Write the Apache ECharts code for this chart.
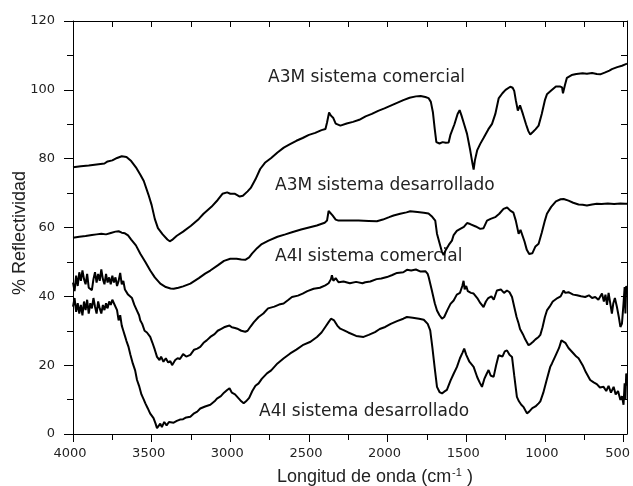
<!DOCTYPE html>
<html>
<head>
<meta charset="utf-8">
<script src="https://cdn.jsdelivr.net/npm/echarts@6/dist/echarts.min.js"></script>
<style>
html,body{margin:0;padding:0;background:#fff;}
#c{width:633px;height:486px;}
</style>
</head>
<body>
<div id="c"></div>
<script>
// ---- Data (wavenumber in cm^-1, % reflectivity) ----
const seriesNames = ["A3M sistema comercial", "A3M sistema desarrollado", "A4I sistema comercial", "A4I sistema desarrollado"];

const wnA3Mcom = [4000,3950,3900,3850,3800,3780,3750,3720,3690,3660,3630,3600,3570,3550,3520,3500,3480,3460,3430,3400,3385,3370,3340,3300,3250,3200,3170,3120,3080,3050,3020,3000,2970,2940,2920,2890,2870,2840,2810,2780,2740,2700,2660,2620,2580,2540,2500,2460,2420,2395,2385,2372,2360,2345,2330,2300,2260,2220,2180,2140,2100,2060,2020,1980,1940,1900,1860,1820,1790,1760,1740,1725,1712,1700,1690,1670,1650,1630,1612,1600,1575,1555,1542,1530,1510,1495,1475,1460,1453,1445,1430,1411,1390,1360,1336,1315,1294,1270,1250,1220,1205,1195,1185,1172,1165,1158,1152,1140,1120,1105,1093,1075,1060,1040,1020,1000,987,960,930,905,891,885,880,872,860,830,800,760,733,700,670,648,620,590,574,540,510,489,478];
const reA3Mcom = [77.5,77.8,78.0,78.3,78.6,79.2,79.5,80.2,80.7,80.5,79.3,77.5,75.2,73.5,69.5,66.5,62.5,59.8,58.0,56.5,56.0,56.4,57.6,58.8,60.5,62.5,64.0,66.0,68.0,69.8,70.2,69.8,69.8,69.0,69.2,70.5,71.5,74.0,77.0,78.8,80.2,81.8,83.2,84.2,85.2,86.0,86.9,87.5,88.3,88.6,90.5,93.4,92.5,91.8,90.2,89.6,90.2,90.7,91.3,92.3,93.0,93.9,94.6,95.4,96.2,97.0,97.7,98.1,98.2,97.9,97.6,96.5,93.5,88.5,84.8,84.4,84.8,84.6,84.7,87.0,90.0,93.0,94.1,92.5,89.5,87.2,82.5,78.5,76.8,79.5,82.5,84.3,86.0,88.5,90.1,93.0,97.5,99.0,100.0,100.9,100.6,99.7,97.0,94.0,93.5,95.5,95.8,93.0,90.0,88.0,87.0,87.8,88.5,89.6,93.0,97.0,98.7,99.8,101.0,101.0,100.7,99.0,98.7,101.5,103.5,104.3,104.6,104.8,104.7,104.9,104.6,104.5,105.0,105.6,106.0,106.6,107.0,107.4,107.6];

const wnA3Mdes = [4000,3960,3920,3880,3850,3820,3790,3760,3730,3710,3690,3670,3650,3630,3600,3572,3540,3509,3480,3445,3410,3380,3360,3330,3300,3254,3200,3160,3127,3080,3040,3000,2960,2930,2905,2880,2862,2830,2800,2757,2700,2650,2608,2550,2500,2450,2400,2385,2375,2365,2350,2330,2312,2250,2184,2120,2068,2030,1990,1962,1920,1880,1856,1810,1770,1740,1720,1697,1686,1670,1655,1644,1630,1610,1591,1580,1560,1538,1515,1495,1475,1464,1440,1411,1390,1368,1345,1316,1290,1263,1240,1220,1200,1185,1167,1155,1146,1130,1115,1100,1093,1080,1060,1040,1020,1000,987,960,930,900,881,850,820,786,760,733,700,670,640,600,560,520,489,478];
const reA3Mdes = [57.0,57.3,57.5,57.8,58.0,58.2,58.0,58.4,58.8,58.9,58.5,58.3,57.7,56.5,54.8,52.4,50.0,47.5,45.5,43.7,42.7,42.3,42.2,42.5,42.9,43.7,45.3,46.6,47.5,49.0,50.3,50.9,50.9,50.7,50.6,51.3,52.4,54.0,55.2,56.2,57.3,58.0,58.6,59.4,60.0,60.6,61.4,62.0,64.8,65.0,63.5,62.3,62.0,62.0,62.0,61.9,61.8,62.3,63.0,63.5,64.0,64.4,64.7,64.5,64.3,64.1,63.3,62.0,58.2,55.5,53.0,52.0,53.5,55.0,56.2,57.8,59.0,59.6,60.2,61.3,61.0,61.1,60.3,59.6,59.8,62.0,62.5,63.0,64.0,65.4,65.8,64.9,64.3,62.0,58.2,59.3,59.1,56.0,53.5,52.3,51.9,52.5,54.5,55.3,58.5,62.0,64.0,66.0,67.6,68.2,68.3,67.8,67.2,66.7,66.6,66.4,66.7,66.9,66.8,67.0,66.8,67.0,66.9,66.9];

const wnA4Icom = [4000,3990,3980,3970,3960,3950,3940,3930,3920,3910,3900,3880,3870,3860,3850,3840,3830,3820,3810,3800,3790,3780,3770,3760,3750,3740,3730,3720,3710,3700,3690,3680,3670,3660,3650,3640,3625,3610,3595,3580,3572,3560,3545,3530,3509,3495,3480,3466,3450,3440,3425,3410,3395,3381,3370,3360,3350,3335,3320,3300,3280,3254,3230,3210,3191,3170,3150,3127,3100,3080,3060,3040,3021,3005,2990,2970,2950,2930,2905,2890,2870,2850,2820,2790,2760,2720,2690,2661,2630,2608,2570,2540,2510,2470,2430,2396,2375,2360,2354,2345,2330,2312,2280,2240,2200,2160,2142,2110,2070,2040,2004,1970,1940,1900,1877,1850,1820,1790,1760,1745,1739,1720,1700,1686,1670,1654,1640,1620,1600,1580,1560,1540,1525,1517,1510,1500,1490,1470,1453,1430,1410,1390,1375,1360,1340,1325,1305,1280,1260,1241,1225,1209,1195,1180,1167,1158,1150,1140,1125,1104,1090,1075,1060,1040,1029,1015,1000,987,970,950,920,900,881,870,850,820,796,770,744,720,700,680,660,637,625,615,605,595,584,574,565,555,542,530,520,510,500,493,488,483,478];
const reA4Icom = [44.0,41.5,46.0,43.0,47.0,44.5,47.5,45.0,43.5,46.5,42.5,41.8,45.0,47.0,44.0,46.5,44.5,47.8,45.0,43.5,46.5,44.0,45.5,43.5,46.0,44.0,45.5,43.0,44.5,46.8,43.5,44.5,42.0,42.5,40.5,41.0,39.5,37.5,36.0,34.5,33.0,32.0,30.0,29.5,28.2,26.5,24.5,22.4,21.5,22.5,21.0,22.0,20.8,21.2,20.0,19.8,21.5,22.0,21.8,23.2,22.5,23.0,24.5,24.8,25.3,26.5,27.2,28.2,29.0,30.0,30.5,31.0,31.3,31.5,31.0,30.8,30.5,30.0,29.7,30.0,31.3,32.5,34.0,35.0,36.5,37.0,37.6,37.9,39.0,39.8,40.2,40.8,41.5,42.2,42.5,43.2,43.8,45.0,46.1,44.5,45.3,44.1,44.3,43.8,44.2,43.8,44.1,44.3,45.0,45.2,45.6,46.2,46.8,47.0,47.7,47.5,47.8,47.2,47.3,46.5,45.6,42.0,38.0,35.9,34.5,33.5,34.0,36.0,37.8,38.8,40.5,41.0,43.0,44.5,42.0,43.0,41.5,41.0,40.8,39.5,38.0,36.9,38.5,39.5,40.0,39.0,41.7,42.0,41.0,41.7,41.2,39.8,37.0,34.0,32.1,30.5,31.0,29.0,27.5,25.8,26.2,26.8,27.5,28.2,28.8,31.0,34.0,35.9,37.0,38.5,39.5,40.0,41.7,41.0,41.2,40.5,40.3,40.0,39.8,40.3,39.5,39.8,39.0,40.8,38.5,40.5,37.5,41.0,40.8,35.0,38.0,39.5,36.9,34.0,31.1,32.1,38.0,42.7,35.0,43.0,42.0];

const wnA4Ides = [4000,3990,3980,3970,3960,3950,3940,3930,3920,3910,3900,3890,3880,3870,3860,3850,3840,3830,3820,3810,3800,3790,3780,3770,3760,3750,3740,3730,3720,3710,3700,3690,3680,3670,3660,3647,3635,3620,3605,3593,3580,3565,3550,3540,3525,3510,3500,3488,3475,3466,3455,3445,3435,3420,3405,3390,3381,3360,3340,3320,3300,3280,3254,3230,3210,3191,3160,3127,3100,3085,3060,3040,3020,3005,2990,2970,2950,2930,2915,2900,2880,2860,2840,2820,2800,2767,2740,2700,2660,2619,2580,2540,2490,2449,2420,2396,2375,2360,2354,2340,2320,2301,2280,2250,2200,2153,2120,2080,2050,2015,1980,1940,1900,1877,1840,1800,1770,1745,1729,1715,1700,1686,1670,1654,1640,1623,1600,1580,1559,1540,1525,1513,1500,1480,1453,1430,1415,1400,1385,1370,1358,1345,1326,1310,1294,1270,1255,1241,1225,1209,1195,1178,1165,1150,1135,1114,1100,1080,1060,1040,1029,1010,990,966,955,930,910,895,888,870,850,818,800,786,760,740,712,690,670,650,627,610,595,580,563,550,535,520,510,500,493,488,483,478];
const reA4Ides = [37.0,39.5,35.5,38.0,35.0,37.5,34.5,38.5,36.0,39.0,35.0,38.0,36.5,39.5,37.0,35.0,38.5,36.5,35.0,37.5,36.0,38.0,36.5,38.5,37.5,39.0,38.0,37.5,36.0,33.0,34.5,31.5,30.0,28.5,27.0,25.3,23.0,20.5,18.5,15.7,14.0,11.5,10.0,8.9,7.5,6.0,5.5,4.6,3.0,1.7,1.2,3.0,2.0,3.5,2.5,3.5,3.1,3.3,3.8,4.2,4.3,4.8,5.0,6.0,6.5,7.4,8.0,8.5,9.5,10.3,11.0,12.0,12.8,13.3,12.0,11.5,10.5,9.5,8.9,9.5,10.5,12.5,14.0,14.7,16.0,17.6,18.5,20.5,22.0,23.4,24.5,25.8,26.8,28.2,29.5,31.1,32.5,33.5,34.0,33.0,31.5,30.6,30.2,29.5,28.5,28.2,28.8,29.6,30.5,31.1,32.0,32.8,33.5,34.0,33.8,33.5,33.2,32.0,30.1,25.0,19.0,13.7,12.2,11.8,12.3,12.8,15.5,17.5,19.5,22.0,23.5,24.8,23.0,21.0,19.5,16.5,15.0,13.7,16.0,17.5,18.6,17.0,16.6,20.0,22.9,22.5,24.0,24.3,23.0,22.4,17.0,10.8,9.5,8.5,7.8,6.0,6.5,7.5,8.0,8.9,9.5,12.0,15.5,19.5,20.5,23.0,25.0,27.2,27.0,26.5,25.0,23.4,22.5,22.0,20.0,18.0,15.7,15.0,14.5,13.5,13.7,12.5,14.0,12.0,13.7,11.5,12.5,9.9,11.0,8.5,14.7,10.0,17.6,14.0];

const xMajorTicks = [4000,3500,3000,2500,2000,1500,1000,500];
const xMinorTicks = [3750,3250,2750,2250,1750,1250,750];
const xAllTicks = [4000,3750,3500,3250,3000,2750,2500,2250,2000,1750,1500,1250,1000,750,500];
const xTitle = "Longitud de onda (cm";
const xTitleSup = "-1";
const yTitle = "% Reflectividad";

// ---- build ----
function pairs(xs, ys){ return xs.map((x,i)=>[x, ys[i]]); }
const allSeries = [
  pairs(wnA3Mcom, reA3Mcom),
  pairs(wnA3Mdes, reA3Mdes),
  pairs(wnA4Icom, reA4Icom),
  pairs(wnA4Ides, reA4Ides)
];

const XMIN = 478, XMAX = 4000;
const lastLabel = xMajorTicks[xMajorTicks.length - 1];
const axLine = {show:true, lineStyle:{color:'#000', width:1}};

const chart = echarts.init(document.getElementById('c'), null, {renderer:'canvas'});
chart.setOption({
  animation:false,
  backgroundColor:'#fff',
  grid:{left:73, right:6, top:21, bottom:52, containLabel:false, outerBoundsMode:'none'},
  xAxis:[
    {type:'value', position:'bottom', inverse:true, min:XMIN, max:XMAX,
     axisLine:axLine, splitLine:{show:false},
     axisTick:{show:true, inside:false, length:8, customValues:xMajorTicks, lineStyle:{color:'#000'}},
     axisLabel:{show:true, margin:13, customValues:xMajorTicks, hideOverlap:false,
       fontFamily:'DejaVu Sans', fontSize:13, color:'#222', padding:[0,6,0,0],
       formatter: v => (v === lastLabel ? '{e|' + v + '}' : String(v)),
       rich:{e:{fontFamily:'DejaVu Sans', fontSize:13, color:'#222', padding:[0,6,0,0]}}}},
    {type:'value', position:'bottom', inverse:true, min:XMIN, max:XMAX,
     axisLine:{show:false}, splitLine:{show:false},
     axisTick:{show:true, inside:false, length:6, customValues:xMinorTicks, lineStyle:{color:'#000'}},
     axisLabel:{show:false, customValues:xMinorTicks}},
    {type:'value', position:'top', inverse:true, min:XMIN, max:XMAX,
     axisLine:axLine, splitLine:{show:false},
     axisTick:{show:true, inside:true, length:6, customValues:xAllTicks, lineStyle:{color:'#000'}},
     axisLabel:{show:false, customValues:xAllTicks}}
  ],
  yAxis:[
    {type:'value', position:'left', min:0, max:120, interval:20,
     axisLine:axLine, splitLine:{show:false},
     axisTick:{show:true, inside:false, length:9, lineStyle:{color:'#000'}},
     minorTick:{show:true, splitNumber:2, length:6, lineStyle:{color:'#000'}},
     minorSplitLine:{show:false},
     axisLabel:{show:true, margin:18, fontFamily:'DejaVu Sans', fontSize:13, color:'#222', formatter: v => String(v)}},
    {type:'value', position:'right', min:0, max:120, interval:10,
     axisLine:axLine, splitLine:{show:false},
     axisTick:{show:true, inside:true, length:6, lineStyle:{color:'#000'}},
     axisLabel:{show:false}}
  ],
  series: allSeries.map((d,i)=>({
    name:seriesNames[i], type:'line', xAxisIndex:0, yAxisIndex:0,
    data:d, showSymbol:false, symbol:'none', smooth:false,
    lineStyle:{color:'#000', width:2}, itemStyle:{color:'#000'}
  })),
  graphic:[
    {type:'text', x:268, y:78, style:{text:seriesNames[0], fontFamily:'DejaVu Sans', fontSize:17, fill:'#222', align:'left', verticalAlign:'middle'}},
    {type:'text', x:275, y:186, style:{text:seriesNames[1], fontFamily:'DejaVu Sans', fontSize:17, fill:'#222', align:'left', verticalAlign:'middle'}},
    {type:'text', x:275, y:257, style:{text:seriesNames[2], fontFamily:'DejaVu Sans', fontSize:17, fill:'#222', align:'left', verticalAlign:'middle'}},
    {type:'text', x:259, y:412, style:{text:seriesNames[3], fontFamily:'DejaVu Sans', fontSize:17, fill:'#222', align:'left', verticalAlign:'middle'}},
    {type:'text', x:277, y:477, style:{
      text:'{a|'+xTitle+'}{s|'+xTitleSup+'}{a| )}',
      align:'left', verticalAlign:'middle', fill:'#222',
      rich:{
        a:{fontFamily:'Liberation Sans', fontSize:18, fill:'#222'},
        s:{fontFamily:'Liberation Sans', fontSize:11, fill:'#222', verticalAlign:'top', padding:[0,0,8,1]}
      }}},
    {type:'text', x:20, y:233, rotation:Math.PI/2, style:{text:yTitle, fontFamily:'Liberation Sans', fontSize:18, fill:'#222', align:'center', verticalAlign:'middle'}}
  ]
});
</script>
</body>
</html>
